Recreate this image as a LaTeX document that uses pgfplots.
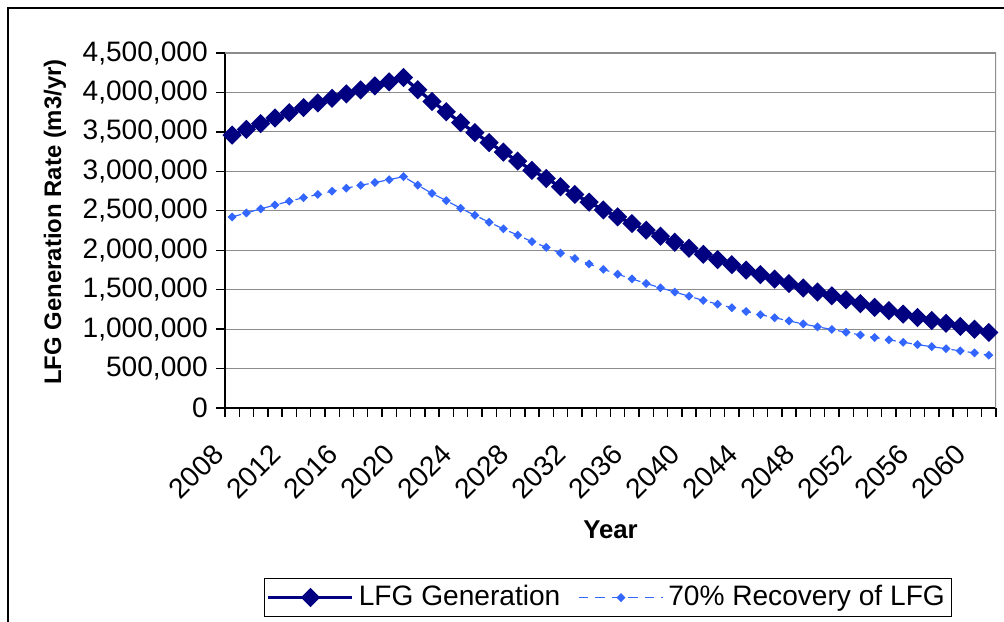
\documentclass[border=0pt]{standalone}
\usepackage{pgfplots}
\pgfplotsset{compat=1.18}
\usepackage{fontspec}
\setmainfont{Liberation Sans}
\definecolor{lfgnavy}{HTML}{000080}
\definecolor{lfgblue}{HTML}{3366FF}
\definecolor{gridgray}{HTML}{8C8C8C}

\pgfplotstableread{
year lfg rec
2008 3460000 2422000
2009 3532000 2472400
2010 3605000 2523500
2011 3676000 2573200
2012 3744000 2620800
2013 3808000 2665600
2014 3867000 2706900
2015 3926000 2748200
2016 3981000 2786700
2017 4032000 2822400
2018 4083000 2858100
2019 4134000 2893800
2020 4190000 2933000
2021 4035000 2824500
2022 3886000 2720200
2023 3755000 2628500
2024 3618000 2532600
2025 3490000 2443000
2026 3364000 2354800
2027 3244000 2270800
2028 3130000 2191000
2029 3012000 2108400
2030 2910000 2037000
2031 2805000 1963500
2032 2707000 1894900
2033 2609000 1826300
2034 2510000 1757000
2035 2423000 1696100
2036 2338000 1636600
2037 2254000 1577800
2038 2177000 1523900
2039 2100000 1470000
2040 2024000 1416800
2041 1948000 1363600
2042 1880000 1316000
2043 1816000 1271200
2044 1748000 1223600
2045 1690000 1183000
2046 1634000 1143800
2047 1577000 1103900
2048 1522000 1065400
2049 1470000 1029000
2050 1422000 995400
2051 1372000 960400
2052 1322000 925400
2053 1276000 893200
2054 1234000 863800
2055 1190000 833000
2056 1148000 803600
2057 1110000 777000
2058 1073000 751100
2059 1034000 723800
2060 998000 698600
2061 957000 669900
}\lfgdata

\begin{document}
\begin{tikzpicture}
  % picture is 1004 x 622 px, 1 px = 0.15 mm
  \clip (0,0) rectangle (150.6mm,93.3mm);
  \draw[black, line width=0.5pt] (1.2mm,-5mm) rectangle (160mm,92.1mm);
  \begin{axis}[
      at={(33.75mm,32.1mm)}, anchor=origin,
      scale only axis, width=115.65mm, height=53.25mm,
      xmin=2007.5, xmax=2061.5, ymin=0, ymax=4500000,
      axis lines=left,
      axis line style={-, black, line width=0.9pt},
      tick align=outside,
      major tick length=1.35mm,
      tick style={black, line width=0.6pt},
      xtick={2007.5,2008.5,...,2061.5},
      xticklabel={\phantom{}},
      extra x ticks={2008,2012,...,2060},
      extra x tick labels={2008,2012,2016,2020,2024,2028,2032,2036,2040,2044,2048,2052,2056,2060},
      extra x tick style={major tick length=0pt, grid=none,
        xticklabel style={xshift=-1.2mm, rotate=45, anchor=east}, xticklabel shift=5.3mm},
      ytick={0,500000,...,4500000},
      scaled y ticks=false,
      yticklabel style={/pgf/number format/.cd, fixed, 1000 sep={,}, assume math mode=true},
      tick label style={font=\fontsize{12}{14}\selectfont},
      ymajorgrids,
      major grid style={gridgray, line width=0.5pt},
      xlabel={Year},
      xlabel style={font=\fontsize{11}{13}\selectfont\bfseries, at={(axis description cs:0.5,-0.3437)}, anchor=center},
      ylabel={LFG Generation Rate (m3/yr)},
      ylabel style={font=\fontsize{10.2}{12}\selectfont\bfseries, at={(axis description cs:-0.2205,0.524)}, anchor=center},
      legend columns=2,
      legend style={at={(0.497,-0.534)}, anchor=center, draw=black, line width=0.5pt,
        font=\fontsize{12}{14}\selectfont, inner sep=1pt,
        /tikz/every even column/.append style={column sep=2mm}},
      legend image code/.code={\draw[mark repeat=2,mark phase=2] plot coordinates {(0cm,0cm)(0.63cm,0cm)(1.26cm,0cm)};},
    ]
    \addplot[lfgnavy, line width=1.4pt, mark=square*, mark size=2.2pt,
      mark options={rotate=45, solid, fill=lfgnavy}] table[x=year, y=lfg] {\lfgdata};
    \addlegendentry{LFG Generation}
    \addplot[lfgblue, line width=0.5pt, dash pattern=on 4pt off 3pt, mark=square*, mark size=1.1pt,
      mark options={rotate=45, solid, fill=lfgblue}] table[x=year, y=rec] {\lfgdata};
    \addlegendentry{70\% Recovery of LFG}
    \draw[gridgray, line width=1pt] (rel axis cs:0,1) -- (rel axis cs:1,1) -- (rel axis cs:1,0);
  \end{axis}
\end{tikzpicture}
\end{document}
